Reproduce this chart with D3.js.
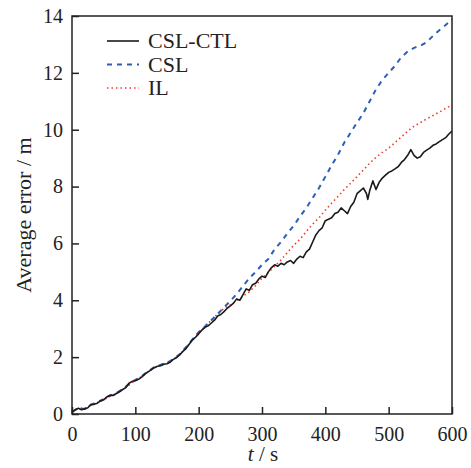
<!DOCTYPE html>
<html>
<head>
<meta charset="utf-8">
<script src="https://cdn.jsdelivr.net/npm/d3@7"></script>
<style>
  body { margin: 0; background: #fff; }
</style>
</head>
<body>
<div class="myChart"></div>
<script>
// time grid (s)
const tCoarse = d3.range(0, 601, 10);
const tFine = [0,5,10,15,20,25,30,35,40,45,50,55,60,65,70,75,80,85,90,95,100,105,110,115,120,125,130,135,140,145,150,155,160,165,170,175,180,185,190,195,200,205,210,215,220,225,230,235,240,245,250,255,260,265,270,275,280,285,290,295,300,305,310,315,320,325,330,335,340,345,350,355,360,365,370,375,380,385,390,395,400,405,410,415,420,425,430,435,440,445,450,455,460,465,467,470,475,480,485,490,495,500,505,510,515,520,525,530,535,540,545,550,555,560,565,570,575,580,585,590,595,600];

// CSL-CTL (black, noisy)
const cslCtl = [0.05,0.15,0.2,0.15,0.18,0.22,0.33,0.34,0.38,0.46,0.5,0.6,0.66,0.65,0.72,0.78,0.86,0.93,1.08,1.15,1.17,1.22,1.3,1.4,1.48,1.55,1.63,1.68,1.7,1.75,1.77,1.82,1.92,1.98,2.08,2.2,2.3,2.45,2.6,2.7,2.82,2.95,3.05,3.1,3.2,3.3,3.45,3.5,3.6,3.72,3.8,3.9,4.05,4.0,4.2,4.4,4.35,4.55,4.6,4.75,4.85,4.8,5.0,5.15,5.25,5.2,5.3,5.25,5.35,5.4,5.3,5.45,5.55,5.5,5.7,5.8,6.05,6.3,6.45,6.55,6.8,6.85,6.9,7.05,7.1,7.25,7.15,7.05,7.3,7.45,7.75,7.85,7.95,7.75,7.55,7.85,8.2,7.9,8.15,8.3,8.4,8.5,8.55,8.62,8.7,8.85,8.95,9.1,9.3,9.1,9.0,9.05,9.2,9.28,9.35,9.45,9.5,9.58,9.65,9.72,9.85,9.95];

// CSL (blue dashed)
const csl = [0.08,0.2,0.18,0.33,0.42,0.52,0.65,0.73,0.88,1.05,1.2,1.33,1.5,1.65,1.73,1.8,1.93,2.1,2.35,2.62,2.88,3.08,3.3,3.52,3.75,3.97,4.22,4.5,4.78,5.0,5.25,5.45,5.8,6.05,6.35,6.62,6.95,7.25,7.6,7.95,8.35,8.75,9.12,9.55,9.9,10.25,10.58,11.0,11.42,11.75,12.0,12.25,12.55,12.75,12.88,12.95,13.08,13.3,13.5,13.68,13.88];

// IL (red dotted)
const il = [0.1,0.2,0.2,0.32,0.4,0.5,0.62,0.72,0.88,1.02,1.18,1.32,1.48,1.63,1.73,1.8,1.92,2.1,2.33,2.6,2.85,3.08,3.3,3.52,3.72,3.84,3.98,4.14,4.3,4.52,4.78,4.98,5.2,5.42,5.68,5.93,6.15,6.42,6.68,6.9,7.17,7.42,7.65,7.9,8.12,8.35,8.58,8.82,9.03,9.2,9.35,9.55,9.75,9.95,10.12,10.25,10.38,10.5,10.62,10.75,10.87];

const xTicks = [0, 100, 200, 300, 400, 500, 600];
const yTicks = [0, 2, 4, 6, 8, 10, 12, 14];
const seriesNames = ["CSL-CTL", "CSL", "IL"];

const width = 471, height = 468;
const margin = {top: 16, right: 19, bottom: 54, left: 72};
const w = width - margin.left - margin.right;
const h = height - margin.top - margin.bottom;
const serif = "Liberation Serif";

const svg = d3.select(".myChart").append("svg")
    .attr("width", width).attr("height", height)
    .attr("font-family", serif);
const g = svg.append("g")
    .attr("transform", "translate(" + margin.left + "," + margin.top + ")");

const x = d3.scaleLinear().domain([0, 600]).range([0, w]);
const y = d3.scaleLinear().domain([0, 14]).range([h, 0]);

const styles = [
    {color: "#1a1a1a", width: 1.6, dash: null},
    {color: "#2b5fb8", width: 2, dash: "5,5"},
    {color: "#ee3b2c", width: 1.6, dash: "1.5,3"}
];

const line = d3.line().x(d => x(d[0])).y(d => y(d[1]));
const data = [
    tFine.map((t, i) => [t, cslCtl[i]]),
    tCoarse.map((t, i) => [t, csl[i]]),
    tCoarse.map((t, i) => [t, il[i]])
];

// draw IL, CSL first then black on top
[2, 1, 0].forEach(k => {
    g.append("path")
        .datum(data[k])
        .attr("fill", "none")
        .attr("stroke", styles[k].color)
        .attr("stroke-width", styles[k].width)
        .attr("stroke-dasharray", styles[k].dash)
        .attr("stroke-linejoin", "round")
        .attr("d", line);
});

// frame
g.append("rect")
    .attr("width", w).attr("height", h)
    .attr("fill", "none").attr("stroke", "#222").attr("stroke-width", 1.5);

const xAxis = g.append("g")
    .attr("transform", "translate(0," + h + ")")
    .call(d3.axisBottom(x).tickValues(xTicks).tickSize(-7).tickPadding(13));
const yAxis = g.append("g")
    .call(d3.axisLeft(y).tickValues(yTicks).tickSize(-7).tickPadding(9));

[xAxis, yAxis].forEach(a => {
    a.attr("font-family", serif).attr("font-size", 20);
    a.select(".domain").remove();
    a.selectAll(".tick line").attr("stroke", "#222").attr("stroke-width", 1.5);
    a.selectAll(".tick text").attr("fill", "#222");
});

// axis titles
const xt = svg.append("text")
    .attr("x", margin.left + w / 2 + 1).attr("y", 461)
    .attr("text-anchor", "middle")
    .attr("font-family", serif)
    .attr("font-size", 21).attr("fill", "#222");
xt.append("tspan").attr("font-style", "italic").text("t");
xt.append("tspan").text(" / s");

svg.append("text")
    .attr("transform", "translate(31," + (margin.top + h / 2) + ") rotate(-90)")
    .attr("text-anchor", "middle")
    .attr("font-family", serif)
    .attr("font-size", 22).attr("fill", "#222")
    .text("Average error / m");

// legend
const legend = svg.append("g");
seriesNames.forEach((name, i) => {
    const ly = 41 + i * 23.5;
    legend.append("line")
        .attr("x1", 107).attr("x2", 139)
        .attr("y1", ly).attr("y2", ly)
        .attr("stroke", styles[i].color)
        .attr("stroke-width", styles[i].width)
        .attr("stroke-dasharray", styles[i].dash);
    legend.append("text")
        .attr("x", 148).attr("y", ly + 7)
        .attr("font-family", serif)
        .attr("font-size", 22).attr("fill", "#222")
        .text(name);
});
</script>
</body>
</html>
